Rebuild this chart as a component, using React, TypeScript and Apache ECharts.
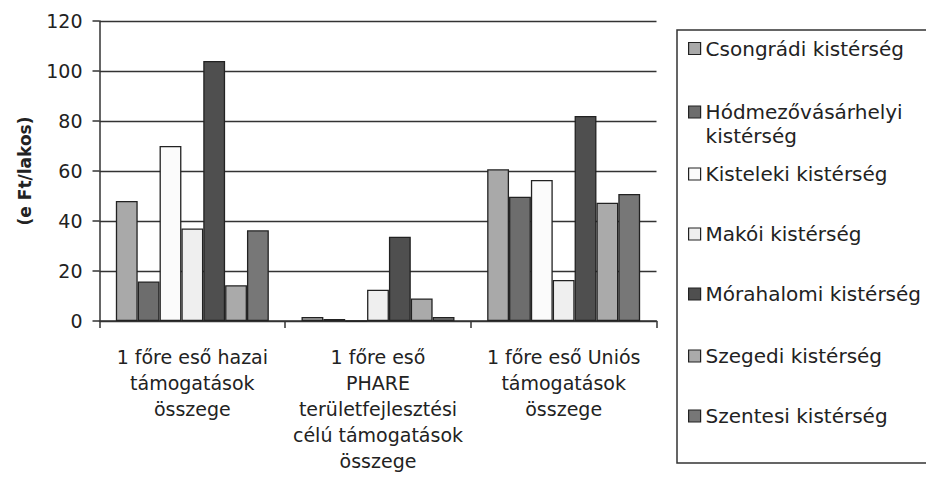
import React, { useEffect, useRef } from "react";
import * as echarts from "echarts";

const categories = [
  "1 főre eső hazai\ntámogatások\nösszege",
  "1 főre eső\nPHARE\nterületfejlesztési\ncélú támogatások\nösszege",
  "1 főre eső Uniós\ntámogatások\nösszege",
];

const seriesNames = [
  "Csongrádi kistérség",
  "Hódmezővásárhelyi kistérség",
  "Kisteleki kistérség",
  "Makói kistérség",
  "Mórahalomi kistérség",
  "Szegedi kistérség",
  "Szentesi kistérség",
];

const csongradi = [48, 1.6, 60.7];
const hodmezo = [15.8, 0.8, 49.7];
const kisteleki = [70, 0, 56.4];
const makoi = [37, 12.5, 16.4];
const morahalomi = [104, 33.7, 82];
const szegedi = [14.3, 9, 47.3];
const szentesi = [36.3, 1.6, 50.8];

const seriesValues = [csongradi, hodmezo, kisteleki, makoi, morahalomi, szegedi, szentesi];
const seriesColors = ["#a9a9a9", "#6d6d6d", "#fbfbfb", "#efefef", "#4f4f4f", "#aaaaaa", "#777777"];

const yAxisName = "(e Ft/lakos)";

const FONT = "'DejaVu Sans', sans-serif";
const TEXT = "#222";
const LINE = "#333";

// legend item centres (layout)
const legendCenters = [47.5, 112, 173, 233, 293, 355, 415];
const LEGEND_LH = 18;
const WRAP_LH = 24;

export default function App() {
  const ref = useRef<HTMLDivElement>(null);

  useEffect(() => {
    if (!ref.current) return;
    const chart = echarts.init(ref.current, null, { renderer: "svg" });

    const legends = seriesNames.map((name, i) => {
      const words = name.split(" ");
      const long = words[0].length > 15;
      // wrapped entry: tall icon box with the square on top so it sits beside line 1
      const tallH = 12 + WRAP_LH;
      return {
        show: true,
        data: [name],
        left: 688,
        top: long ? legendCenters[i] - WRAP_LH / 2 : legendCenters[i] - LEGEND_LH / 2,
        padding: 0,
        itemWidth: 12,
        itemHeight: long ? tallH : 12,
        icon: long ? `path://M0,0L12,0L12,12L0,12Z M0,${tallH}` : "rect",
        symbolKeepAspect: false,
        selectedMode: false,
        itemStyle: { borderColor: "#222", borderWidth: 1.2 },
        formatter: long ? () => words[0] + "\n" + words.slice(1).join(" ") : undefined,
        textStyle: {
          fontFamily: FONT,
          fontSize: 20,
          color: TEXT,
          lineHeight: long ? WRAP_LH : LEGEND_LH,
        },
      };
    });

    chart.setOption({
      animation: false,
      backgroundColor: "#fff",
      textStyle: { fontFamily: FONT },
      grid: { left: 99.5, right: 269.5, top: 21, bottom: 157, containLabel: false },
      legend: legends,
      graphic: [
        {
          type: "rect",
          shape: { x: 677, y: 30, width: 270, height: 433 },
          style: { fill: "none", stroke: LINE, lineWidth: 1.5 },
          z: 10,
        },
      ],
      xAxis: {
        type: "category",
        data: categories,
        axisLine: { show: true, lineStyle: { color: LINE, width: 1.5 } },
        axisTick: { show: true, length: 7, alignWithLabel: false, lineStyle: { color: LINE, width: 1.5 } },
        axisLabel: {
          interval: 0,
          margin: 23,
          fontFamily: FONT,
          fontSize: 19,
          lineHeight: 26,
          color: TEXT,
          align: "center",
        },
      },
      yAxis: {
        type: "value",
        min: 0,
        max: 120,
        interval: 20,
        name: yAxisName,
        nameLocation: "middle",
        nameRotate: 90,
        nameGap: 66,
        nameTextStyle: { fontFamily: FONT, fontSize: 17, fontWeight: "bold", color: TEXT },
        axisLine: { show: true, lineStyle: { color: LINE, width: 1.5 } },
        axisTick: { show: true, length: 7, inside: false, lineStyle: { color: LINE, width: 1.5 } },
        axisLabel: { margin: 17, fontFamily: FONT, fontSize: 19, color: TEXT },
        splitLine: { show: true, lineStyle: { color: LINE, width: 1.4 } },
      },
      series: seriesNames.map((name, i) => ({
        name,
        type: "bar",
        data: seriesValues[i],
        barGap: "0%",
        barCategoryGap: "17.6%",
        itemStyle: { color: seriesColors[i], borderColor: "#222", borderWidth: 1.3 },
      })),
    });

    return () => chart.dispose();
  }, []);

  return (
    <div
      ref={ref}
      style={{ position: "fixed", left: 0, top: 0, width: 926, height: 478, background: "#fff" }}
    />
  );
}
